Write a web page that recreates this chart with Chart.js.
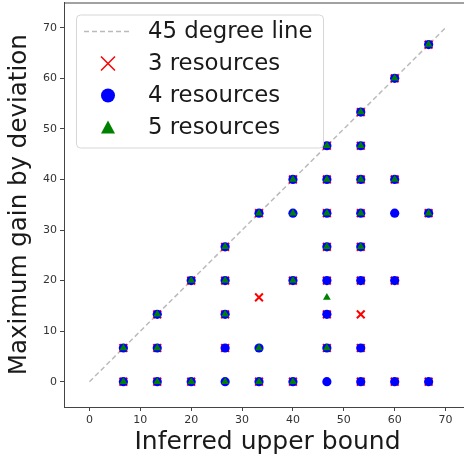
<!DOCTYPE html>
<html>
<head>
<meta charset="utf-8">
<script src="https://cdn.jsdelivr.net/npm/chart.js@4"></script>
<style>
  html, body { margin: 0; padding: 0; background: #fff; overflow: hidden; }
  #wrap { width: 464px; height: 457px; overflow: hidden; }
  #gainChart { display: block; margin-top: -5px; }
</style>
</head>
<body>
<div id="wrap"><canvas id="gainChart" width="480" height="462"></canvas></div>
<script>
// values (steps of 20/3)
const tickLabels = [0, 10, 20, 30, 40, 50, 60, 70];
const diagonal = [0, 70];

const res3X = [6.67, 13.33, 20, 33.33, 40, 53.33, 60, 66.67,
  6.67, 13.33, 26.67, 46.67, 53.33,
  13.33, 26.67, 46.67, 53.33,
  33.33,
  20, 26.67, 40, 46.67, 53.33, 60,
  26.67, 46.67, 53.33,
  33.33, 46.67, 53.33, 66.67,
  40, 46.67, 53.33, 60,
  46.67, 53.33,
  53.33, 60, 66.67];
const res3Y = [0, 0, 0, 0, 0, 0, 0, 0,
  6.67, 6.67, 6.67, 6.67, 6.67,
  13.33, 13.33, 13.33, 13.33,
  16.67,
  20, 20, 20, 20, 20, 20,
  26.67, 26.67, 26.67,
  33.33, 33.33, 33.33, 33.33,
  40, 40, 40, 40,
  46.67, 46.67,
  53.33, 60, 66.67];

const res4X = [6.67, 13.33, 20, 26.67, 33.33, 40, 46.67, 53.33, 60, 66.67,
  6.67, 13.33, 26.67, 33.33, 46.67, 53.33,
  13.33, 26.67, 46.67,
  20, 26.67, 40, 46.67, 53.33, 60,
  26.67, 46.67, 53.33,
  33.33, 40, 46.67, 53.33, 60, 66.67,
  40, 46.67, 53.33, 60,
  46.67, 53.33,
  53.33, 60, 66.67];
const res4Y = [0, 0, 0, 0, 0, 0, 0, 0, 0, 0,
  6.67, 6.67, 6.67, 6.67, 6.67, 6.67,
  13.33, 13.33, 13.33,
  20, 20, 20, 20, 20, 20,
  26.67, 26.67, 26.67,
  33.33, 33.33, 33.33, 33.33, 33.33, 33.33,
  40, 40, 40, 40,
  46.67, 46.67,
  53.33, 60, 66.67];

const res5X = [6.67, 13.33, 20, 26.67, 33.33, 40,
  6.67, 13.33, 33.33, 46.67,
  13.33, 26.67,
  46.67,
  20, 26.67, 40,
  26.67, 46.67, 53.33,
  33.33, 40, 46.67, 53.33, 66.67,
  40, 46.67, 53.33, 60,
  46.67, 53.33,
  53.33, 60, 66.67];
const res5Y = [0, 0, 0, 0, 0, 0,
  6.67, 6.67, 6.67, 6.67,
  13.33, 13.33,
  16.67,
  20, 20, 20,
  26.67, 26.67, 26.67,
  33.33, 33.33, 33.33, 33.33, 33.33,
  40, 40, 40, 40,
  46.67, 46.67,
  53.33, 60, 66.67];

const toPoints = (xs, ys) => xs.map((x, i) => ({ x: x, y: ys[i] }));

const axisColor = '#444';
const font = 'DejaVu Sans';

// legend drawn inside the plot, matplotlib style
const insideLegend = {
  id: 'insideLegend',
  afterDraw(chart) {
    const ctx = chart.ctx;
    const area = chart.chartArea;
    const bx = area.left + 12, by = area.top + 12, bw = 247, bh = 133;
    ctx.save();
    // top spine
    ctx.strokeStyle = axisColor;
    ctx.lineWidth = 1;
    ctx.beginPath();
    ctx.moveTo(area.left, area.top + 0.5);
    ctx.lineTo(area.right, area.top + 0.5);
    ctx.stroke();

    ctx.fillStyle = 'rgba(255,255,255,0.85)';
    ctx.strokeStyle = '#d6d6d6';
    ctx.beginPath();
    ctx.roundRect(bx + 0.5, by + 0.5, bw, bh, 4);
    ctx.fill();
    ctx.stroke();

    const rows = [
      { label: '45 degree line', kind: 'line' },
      { label: '3 resources', kind: 'cross' },
      { label: '4 resources', kind: 'circle' },
      { label: '5 resources', kind: 'tri' }
    ];
    ctx.font = '22.8px "' + font + '"';
    ctx.textBaseline = 'middle';
    rows.forEach((r, i) => {
      const cy = by + 17 + i * 32;
      const mx = bx + 32;
      if (r.kind === 'line') {
        ctx.strokeStyle = '#bbbbbb';
        ctx.lineWidth = 1.5;
        ctx.setLineDash([5, 3]);
        ctx.beginPath();
        ctx.moveTo(bx + 8, cy);
        ctx.lineTo(bx + 54, cy);
        ctx.stroke();
        ctx.setLineDash([]);
      } else if (r.kind === 'cross') {
        ctx.strokeStyle = '#ff0000';
        ctx.lineWidth = 1.5;
        ctx.beginPath();
        ctx.moveTo(mx - 7, cy - 7); ctx.lineTo(mx + 7, cy + 7);
        ctx.moveTo(mx + 7, cy - 7); ctx.lineTo(mx - 7, cy + 7);
        ctx.stroke();
      } else if (r.kind === 'circle') {
        ctx.fillStyle = '#0000ff';
        ctx.beginPath();
        ctx.arc(mx, cy, 7, 0, Math.PI * 2);
        ctx.fill();
      } else {
        ctx.fillStyle = '#008000';
        ctx.beginPath();
        ctx.moveTo(mx, cy - 7);
        ctx.lineTo(mx + 7, cy + 6);
        ctx.lineTo(mx - 7, cy + 6);
        ctx.closePath();
        ctx.fill();
      }
      ctx.fillStyle = '#1a1a1a';
      ctx.fillText(r.label, bx + 72, cy + 1);
    });
    ctx.restore();
  }
};

const fixedTicks = scale => {
  scale.ticks = tickLabels.map(v => ({ value: v }));
};

window.addEventListener('DOMContentLoaded', () => {
  const ctx = document.getElementById('gainChart');
  new Chart(ctx, {
    type: 'scatter',
    data: {
      datasets: [
        {
          label: '45 degree line',
          type: 'line',
          data: toPoints(diagonal, diagonal),
          borderColor: '#bbbbbb',
          borderWidth: 1.5,
          borderDash: [5, 3],
          pointRadius: 0,
          order: 4
        },
        {
          label: '3 resources',
          data: toPoints(res3X, res3Y),
          pointStyle: 'crossRot',
          pointRadius: 5.5,
          borderColor: '#ff0000',
          backgroundColor: '#ff0000',
          borderWidth: 2,
          order: 3
        },
        {
          label: '4 resources',
          data: toPoints(res4X, res4Y),
          pointStyle: 'circle',
          pointRadius: 4.6,
          borderColor: '#0000ff',
          backgroundColor: '#0000ff',
          borderWidth: 0,
          order: 2
        },
        {
          label: '5 resources',
          data: toPoints(res5X, res5Y),
          pointStyle: 'triangle',
          pointRadius: 4.5,
          borderColor: '#008000',
          backgroundColor: '#008000',
          borderWidth: 0,
          order: 1
        }
      ]
    },
    options: {
      responsive: false,
      animation: false,
      layout: { padding: { left: 0, right: 9, top: 0, bottom: 0 } },
      plugins: {
        legend: { display: false },
        tooltip: { enabled: false }
      },
      scales: {
        x: {
          type: 'linear',
          min: -5,
          max: 75,
          afterBuildTicks: fixedTicks,
          afterFit: s => { s.height = 50; s.paddingLeft = 0; s.paddingRight = 0; },
          grid: { drawOnChartArea: false, color: axisColor, tickLength: 4 },
          border: { color: axisColor, width: 1 },
          ticks: { color: '#333', font: { family: font, size: 11 }, padding: 3, maxRotation: 0 },
          title: {
            display: true,
            text: 'Inferred upper bound',
            color: '#1a1a1a',
            font: { family: font, size: 25 },
            padding: { top: 0, bottom: 0 }
          }
        },
        y: {
          type: 'linear',
          min: -5,
          max: 75,
          afterBuildTicks: fixedTicks,
          afterFit: s => { s.width = 64; s.paddingTop = 0; s.paddingBottom = 0; },
          grid: { drawOnChartArea: false, color: axisColor, tickLength: 4 },
          border: { color: axisColor, width: 1 },
          ticks: { color: '#333', font: { family: font, size: 11 }, padding: 3 },
          title: {
            display: true,
            text: 'Maximum gain by deviation',
            color: '#1a1a1a',
            font: { family: font, size: 24.5 },
            padding: { top: 5, bottom: 0 }
          }
        }
      }
    },
    plugins: [insideLegend]
  });
});
</script>
</body>
</html>
